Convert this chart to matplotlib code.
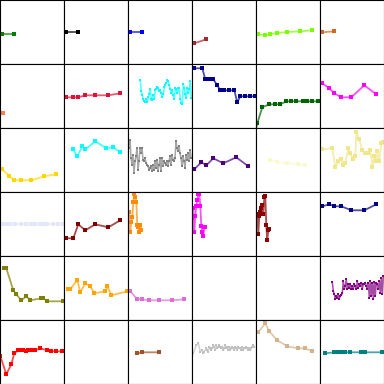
import numpy as np
import matplotlib
matplotlib.use('Agg')
import matplotlib.pyplot as plt

# positions shared by several of the short series (axis runs 0..64)
x2 = [2.3, 14.3]
x7 = [2.3, 9.3, 14.3, 21.3, 31.3, 44.3, 56.3]
x8 = [9.3, 13.3, 18.3, 21.3, 31.3, 42.3, 49.3, 56.3]
x11 = [4.3, 6.3, 13.3, 16.3, 21.3, 26.3, 30.3, 41.3, 43.3, 47.3, 63.3]

green_y = [30, 30]
black_y = [31.7, 31.7]
blue_y = [31.7, 31.7]
brown_y = [20.7, 24.7]
lawngreen_y = [29.7, 28.7, 30, 31, 32, 32.7, 33.7]
chocolate_y = [31.7, 32.7]

coral_x = [2.5]
coral_y = [14.7]
crimson_y = [30.7, 30.7, 30.7, 32.7, 32.7, 32.7, 34.7]
cyan_y = [47.7, 36.7, 32.7, 28.7, 26.7, 25.7, 28.7, 25.7, 30.7, 33.7, 38.7, 28.7, 27.7,
          32.7, 28.7, 37.7, 38.7, 40.7, 39.7, 36.7, 37.7, 34.7, 30.7, 33.7, 40.7, 42.7,
          44.7, 47.7, 46.7, 42.7, 38.7, 34.7, 37.7, 32.7, 28.7, 39.7, 38.7, 34.7, 39.7,
          39.7, 28.7, 24.7, 23.7, 43.7, 39.7, 33.7, 29.7, 39.7, 34.7, 38.7, 46.7, 29.7]
navy_x = [-1, 2.3, 10.3, 13.3, 17.3, 21.3, 25.3, 28.3, 32.3, 37.3, 42.3, 45.3, 48.3, 53.3, 58.3, 63.3]
navy_y = [59.7, 59.7, 59.7, 48.7, 48.7, 48.7, 42.7, 37.7, 37.7, 37.7, 37.7, 25.7, 31.7, 31.7, 31.7, 31.7]
dgreen_x = [-1, 1.3, 6.3, 13.3, 19.3, 24.3, 30.3, 35.3, 40.3, 47.3, 51.3, 56.3, 62.3]
dgreen_y = [-5, 4.7, 20.7, 23.7, 23.7, 23.7, 26.7, 26.7, 26.7, 26.7, 26.7, 26.7, 26.7]
magenta_y = [44.7, 39.7, 34.7, 30.7, 30.7, 42.7, 33.7]

gold_y = [22.7, 15.7, 11.7, 11.7, 11.7, 15.7, 17.7]
aqua_y = [42.7, 35.7, 45.7, 42.7, 50.7, 43.7, 44.7, 39.7]
gray_y = [44, 52.3, 34, 27.3, 37.3, 19, 30.7, 35.7, 44, 22.3, 30.7, 44, 39, 44, 32.3, 30.7,
          34, 29, 27.3, 25.7, 22.3, 24, 25.7, 20.7, 27.3, 22.3, 30.7, 24, 32.3, 20.7, 27.3,
          34, 20.7, 34, 25.7, 30.7, 29, 27.3, 30.7, 25.7, 30.7, 35.7, 27.3, 37.3, 32.3, 30.7,
          34, 50.7, 44, 40.7, 45.7, 39, 34, 25.7, 35.7, 30.7, 24, 37.3, 32.3, 39, 30.7, 42.3, 34]
indigo_y = [22.7, 29.7, 26.7, 33.7, 28.7, 34.7, 25.7]
beige_x = [14.3, 21.3, 31.3, 42.3, 49.3]
beige_y = [31.7, 30.0, 28.7, 27.7, 26.7]
khaki_x = [-1, 2.3, 12.3, 15.3, 18.3, 21.3, 23.3, 25.3, 28.3, 30.3, 33.3, 35.3, 36.3, 39.3,
           42.3, 45.3, 48.3, 50.3, 52.3, 54.3, 56.3, 57.3, 59.3, 61.3, 63.3]
khaki_y = [42.7, 42.7, 43.7, 24.7, 30.7, 32.7, 26.7, 28.7, 43.7, 38.7, 32.7, 35.7, 59.7, 52.7,
           41.7, 38.7, 38.7, 41.7, 24.7, 35.7, 30.7, 40.7, 30.7, 48.7, 49.7]

lavender_x = [2.3, 6.3, 10.3, 15.3, 21.3, 26.3, 31.3, 35.3, 40.3, 42.3, 43.3, 47.3, 53.3, 58.3, 63.3]
lavender_y = [31.7, 31.7, 31.7, 31.7, 31.7, 31.7, 31.7, 31.7, 31.7, 31.7, 31.7, 31.7, 31.7, 31.7, 31.7]
maroon_y = [17.7, 17.7, 31.7, 25.7, 31.7, 28.7, 35.7]
dorange_x = [1.3, 2.3, 3.3, 4.3, 5.3, 6.3, 7.3, 8.3, 9.3, 10.3, 11.3, 12.3, 13.3]
dorange_y = [44, 24, 34, 39, 54, 62.3, 59, 54, 31, 29, 24, 31, 26]
fuchsia_x = [0.3, 1.3, 2.3, 3.3, 4.3, 5.3, 6.3, 7.3, 8.3, 9.3, 10.3, 11.3, 12.3, 13.3]
fuchsia_y = [38, 48, 24, 40, 50, 56, 62.3, 62.3, 50, 30, 23.7, 19.7, 28.7, 28.7]
dred_x = [1.3, 2.3, 3.3, 4.3, 5.3, 6.3, 7.3, 8.3, 9.3, 10.3, 11.3, 12.3, 13.3]
dred_y = [42, 22, 40, 44, 48, 50.7, 42, 59, 60, 30.7, 15.7, 25.7, 27.3]
dblue_y = [49.7, 51.7, 49.7, 49.7, 45.7, 45.7, 51.7]

olive_y = [51.7, 51.7, 29.7, 25.7, 19.7, 23.7, 19.7, 21.7, 21.7, 18.7, 18.7]
orange_y = [30.7, 30.7, 40, 27.7, 36.7, 33.7, 26.7, 28.7, 33.7, 24.7, 28.7]
orchid_y = [28.7, 20.7, 20.7, 19.7, 19.7, 19.7, 20.7]
purple_y = [38, 29, 25.7, 20.7, 24, 22.3, 25.7, 21.3, 24, 24.7, 26.7, 39, 30.7, 34, 40.7,
            30.7, 35.7, 32.3, 35.7, 30.7, 34, 30.7, 35.7, 34, 30.7, 39, 32.3, 35.7, 34, 37.3,
            30.7, 35.7, 35.7, 37.3, 34, 30.7, 37.3, 22.3, 39, 24, 37.3, 21.3, 38, 24, 37.3,
            35.7, 30.7, 39, 27.3, 42.3, 25.7, 44]

red_x = [0.3, 6.3, 11.3, 14.3, 18.3, 21.3, 23.3, 26.3, 28.3, 31.3, 35.3, 40.3, 47.3, 51.3, 56.3, 62.3]
red_y = [28, 9.7, 19.7, 30.7, 33.7, 33.7, 33.7, 32.7, 33.7, 33.7, 33.7, 35.7, 33.7, 32.7, 32.7, 32.7]
sienna_x = [9.3, 14.3, 31.3]
sienna_y = [30.7, 31.7, 31.7]
silver_y = [30.7, 39, 40.7, 32.3, 34, 30.7, 32.3, 35.7, 34, 32.3,
            37.3, 35.7, 34, 35.7, 39, 37.3, 34, 39, 35.7, 37.3, 39, 37.3, 35.7, 37.3, 34,
            35.7, 39, 35.7, 37.3, 34, 37.3, 34, 35.7, 37.3, 35.7, 34, 37.3, 35.7, 34, 37.3,
            35.7, 35.7, 34, 37.3, 34, 35.7, 35.7, 37.3, 35.7, 34, 35.7, 34, 35.7, 37.3, 39, 37.3]
silver_x = [1.3, 4.3, 6.3, 8.3, 10.3, 11.3, 12.3, 14.3, 15.3, 16.3]
tan_x = [2.3, 9.3, 13.3, 21.3, 31.3, 42.3, 49.3, 56.3]
tan_y = [51.7, 60.7, 52.7, 43.7, 37.7, 35.7, 35.7, 32.7]
teal_x = [5.3, 14.3, 17.3, 21.3, 25.3, 30.3, 41.3, 45.3, 62.3]
teal_y = [30.7, 31.7, 31.7, 31.7, 31.7, 31.7, 31.7, 31.7, 31.7]

cyan_x = np.arange(len(cyan_y)) + 12.3
gray_x = np.arange(len(gray_y)) + 1.0
purple_x = np.arange(len(purple_y)) + 12.3
silver_x = silver_x + list(np.arange(len(silver_y) - len(silver_x)) + 17.3)

cells = [
    ('green', x2, green_y), ('black', x2, black_y), ('blue', x2, blue_y),
    ('brown', x2, brown_y), ('lawngreen', x7, lawngreen_y), ('chocolate', x2, chocolate_y),
    ('coral', coral_x, coral_y), ('crimson', x7, crimson_y), ('cyan', cyan_x, cyan_y),
    ('darkblue', navy_x, navy_y), ('darkgreen', dgreen_x, dgreen_y), ('magenta', x7, magenta_y),
    ('gold', x7, gold_y), ('aqua', x8, aqua_y), ('gray', gray_x, gray_y),
    ('indigo', x7, indigo_y), ('lightgoldenrodyellow', beige_x, beige_y), ('khaki', khaki_x, khaki_y),
    ('lavender', lavender_x, lavender_y), ('maroon', x7, maroon_y), ('darkorange', dorange_x, dorange_y),
    ('fuchsia', fuchsia_x, fuchsia_y), ('darkred', dred_x, dred_y), ('navy', x7, dblue_y),
    ('olive', x11, olive_y), ('orange', x11, orange_y), ('orchid', x7, orchid_y),
    None, None, ('purple', purple_x, purple_y),
    ('red', red_x, red_y), None, ('sienna', sienna_x, sienna_y),
    ('silver', silver_x, silver_y), ('tan', tan_x, tan_y), ('teal', teal_x, teal_y),
]

fig, axes = plt.subplots(6, 6, figsize=(3.84, 3.84), dpi=100)
plt.subplots_adjust(left=0, right=1, bottom=0, top=1, wspace=0, hspace=0)

for ax, cell in zip(axes.flat, cells):
    if cell is not None:
        c, xs, ys = cell
        dense = len(xs) > 30
        ax.plot(xs, ys, color=c, lw=1.1 if dense else 1.3, alpha=0.7)
        ax.plot(xs, ys, 's', color=c, ms=1.8 if dense else 2.4, mew=0)
    ax.set_xlim(0, 64)
    ax.set_ylim(0, 64)
    ax.set_xticks([])
    ax.set_yticks([])

fig.savefig('out.png', dpi=100)
